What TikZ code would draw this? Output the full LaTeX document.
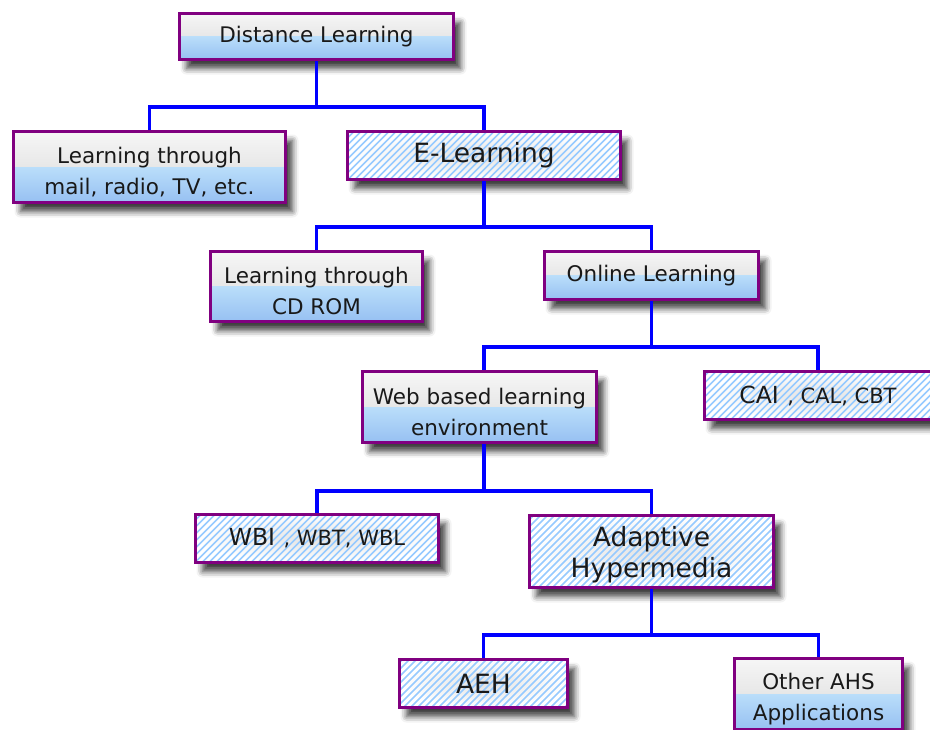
\documentclass[tikz,border=0pt]{standalone}
\usepackage{fontspec}
\setmainfont{DejaVu Sans}
\usetikzlibrary{shadows.blur,calc}
\definecolor{bpurple}{RGB}{128,0,128}
\definecolor{cblue}{RGB}{0,0,255}
\definecolor{hatch}{RGB}{150,202,255}
\definecolor{gtop}{RGB}{246,246,246}
\definecolor{gmid}{RGB}{216,216,216}
\definecolor{btop}{RGB}{186,222,250}
\definecolor{bbot}{RGB}{150,192,242}
\definecolor{txt}{RGB}{25,25,25}
\newcommand\myTopStrut{\rule{0pt}{26pt}}
\tikzset{
  box/.style={draw=bpurple, line width=3pt, inner sep=0pt, text=txt, align=center,
    font=\fontsize{21.5}{31}\selectfont,
    blur shadow={shadow xshift=7pt, shadow yshift=-9pt, shadow blur radius=6pt, shadow opacity=75}},
  gbox/.style={box, path picture={
    \shade[top color=gtop, bottom color=gmid] (path picture bounding box.north west) rectangle (path picture bounding box.east);
    \shade[top color=btop, bottom color=bbot] (path picture bounding box.west) rectangle (path picture bounding box.south east);}},
  hbox/.style={box, font=\fontsize{26.5}{31}\selectfont, path picture={
    \fill[white] (path picture bounding box.north west) rectangle (path picture bounding box.south east);
    \shade[inner color=gray!22, outer color=white] (path picture bounding box.north west) rectangle (path picture bounding box.south east);
    \foreach \k in {-217,-210,...,217}
      \draw[hatch, line width=1.5pt]
        ($(path picture bounding box.center)+(\k-60,60)$) -- ++(120,-120);}},
  conn/.style={draw=cblue, line width=3.5pt},
}
\begin{document}
\begin{tikzpicture}[x=1pt, y=-1pt]
\useasboundingbox (0,0) rectangle (930,729);
\node[gbox, minimum width=274, minimum height=46] (dl) at (316.5,36.5) {Distance Learning};
\node[gbox, minimum width=272, minimum height=71] (mail) at (149.5,167) {\myTopStrut Learning through\\mail, radio, TV, etc.};
\node[hbox, minimum width=273, minimum height=48] (el) at (484,155.5) {E-Learning};
\node[gbox, minimum width=212, minimum height=70] (cd) at (316.5,286.5) {\myTopStrut Learning through\\CD ROM};
\node[gbox, minimum width=214, minimum height=48] (ol) at (651.5,275.5) {Online Learning};
\node[gbox, minimum width=234, minimum height=71] (web) at (479.5,407) {\myTopStrut Web based learning\\environment};
\node[hbox, minimum width=227, minimum height=48] (cai) at (818,395.5) {{\fontsize{23.5}{26}\selectfont CAI} {\fontsize{21}{26}\selectfont, CAL, CBT}};
\node[hbox, minimum width=243, minimum height=48] (wbi) at (317,538.5) {{\fontsize{23.5}{26}\selectfont WBI} {\fontsize{21}{26}\selectfont, WBT, WBL}};
\node[hbox, minimum width=244, minimum height=72] (ah) at (651.5,551.5) {\myTopStrut Adaptive\\Hypermedia};
\node[hbox, minimum width=168, minimum height=48] (aeh) at (483.5,683.5) {AEH};
\node[gbox, minimum width=168, minimum height=71] (oa) at (818.5,694) {\myTopStrut Other AHS\\Applications};
\coordinate (j1) at (316.5,107);
\coordinate (j2) at (484,227);
\coordinate (j3) at (651.5,347);
\coordinate (j4) at (484,491);
\coordinate (j5) at (651.5,635);
\draw[conn] (dl.south) -- (j1);
\draw[conn] (mail.north) |- (j1) -| (el.north);
\draw[conn] (el.south) -- (j2);
\draw[conn] (cd.north) |- (j2) -| (ol.north);
\draw[conn] (ol.south) -- (j3);
\draw[conn] ([xshift=4.5pt]web.north) |- (j3) -| (cai.north);
\draw[conn] ([xshift=4.5pt]web.south) -- (j4);
\draw[conn] (wbi.north) |- (j4) -| (ah.north);
\draw[conn] (ah.south) -- (j5);
\draw[conn] (aeh.north) |- (j5) -| (oa.north);
\end{tikzpicture}
\end{document}
